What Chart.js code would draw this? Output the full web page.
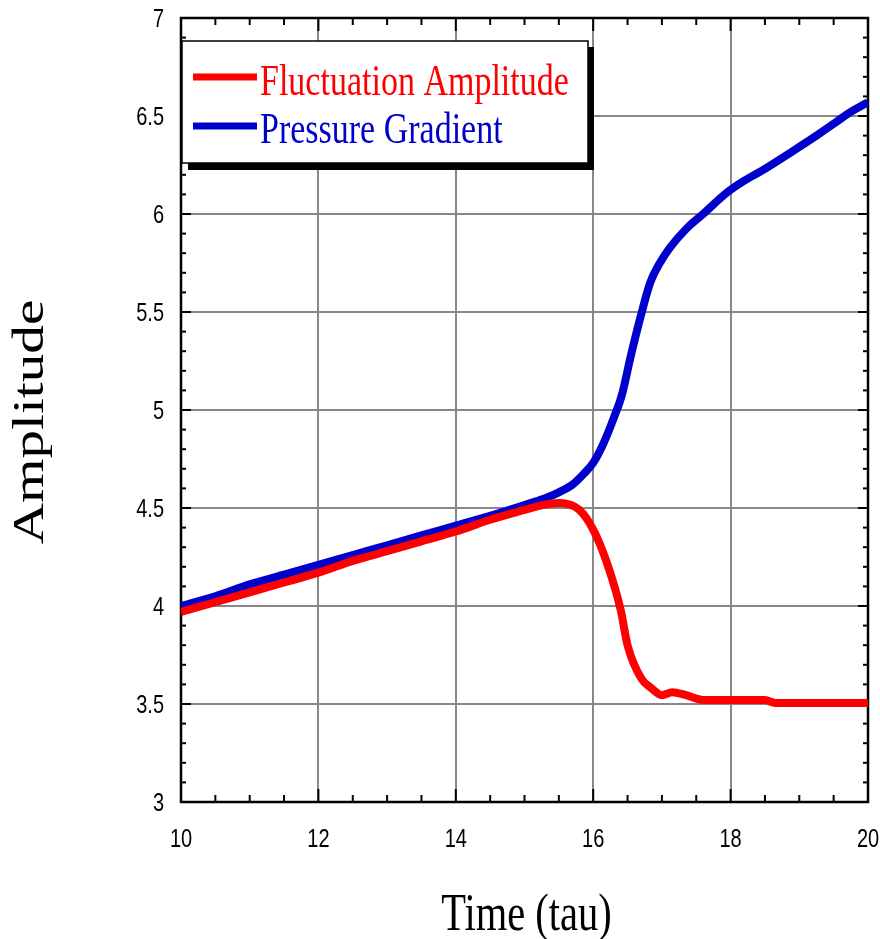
<!DOCTYPE html>
<html>
<head>
<meta charset="utf-8">
<script src="https://cdn.jsdelivr.net/npm/chart.js@4.4.0/dist/chart.umd.min.js"></script>
<style>
  html, body { margin: 0; padding: 0; background: #fff; }
  #wrap { width: 880px; height: 939px; }
</style>
</head>
<body>
<div id="wrap"><canvas id="chart" width="880" height="939"></canvas></div>
<script>
// data
const timeFluct = [10, 10.5, 11, 11.5, 12, 12.5, 13, 13.5, 14, 14.5, 15, 15.2, 15.5, 15.8, 16.0, 16.2, 16.4, 16.5, 16.7, 16.85, 17.0, 17.15, 17.35, 17.6, 18.0, 18.5, 18.65, 19.0, 19.5, 20];
const fluctAmp  = [3.97, 4.02, 4.07, 4.12, 4.17, 4.23, 4.28, 4.33, 4.38, 4.44, 4.49, 4.51, 4.525, 4.49, 4.39, 4.22, 3.98, 3.80, 3.63, 3.58, 3.545, 3.56, 3.545, 3.52, 3.52, 3.52, 3.505, 3.505, 3.505, 3.505];

const timePress = [10, 10.5, 11, 11.5, 12, 12.5, 13, 13.5, 14, 14.5, 15, 15.3, 15.5, 15.7, 15.85, 16.0, 16.15, 16.3, 16.42, 16.55, 16.7, 16.83, 16.97, 17.12, 17.37, 17.6, 17.95, 18.2, 18.45, 18.9, 19.25, 19.5, 19.7, 20];
const pressGrad = [4.0, 4.05, 4.11, 4.16, 4.21, 4.26, 4.31, 4.36, 4.41, 4.46, 4.515, 4.55, 4.58, 4.62, 4.67, 4.73, 4.83, 4.96, 5.08, 5.28, 5.49, 5.65, 5.75, 5.83, 5.93, 6.0, 6.11, 6.17, 6.22, 6.32, 6.40, 6.46, 6.51, 6.57];

const xTicks = [10, 12, 14, 16, 18, 20];
const yTicks = [3, 3.5, 4, 4.5, 5, 5.5, 6, 6.5, 7];

const seriesNames = ['Fluctuation Amplitude', 'Pressure Gradient'];
const xTitle = 'Time (tau)';
const yTitle = 'Amplitude';

const sans = "'Liberation Sans', Arial, sans-serif";
const serif = "'Liberation Serif', 'Times New Roman', serif";

function pts(xs, ys) {
  return xs.map((t, i) => ({ x: t, y: ys[i] }));
}

// text in the original looks stretched vertically
function stretchedText(ctx, text, x, y, font, color, align, rotate, sy) {
  ctx.save();
  ctx.translate(x, y);
  ctx.scale(1, sy || 1.3);
  if (rotate) ctx.rotate(-Math.PI / 2);
  ctx.font = font;
  ctx.fillStyle = color;
  ctx.textAlign = align;
  ctx.textBaseline = 'alphabetic';
  ctx.fillText(text, 0, 0);
  ctx.restore();
}

function seg(ctx, x1, y1, x2, y2) {
  ctx.beginPath();
  ctx.moveTo(x1, y1);
  ctx.lineTo(x2, y2);
  ctx.stroke();
}

// inward ticks on all four sides, black frame, tick labels
const frameTicks = {
  id: 'frameTicks',
  beforeDatasetsDraw(chart) {
    const { ctx, chartArea: a, scales: { x, y } } = chart;
    ctx.save();
    ctx.strokeStyle = '#000';
    ctx.lineWidth = 2;
    for (let i = 0; i <= 20; i++) {
      const v = 10 + i * 0.5;
      const px = x.getPixelForValue(v);
      const len = i % 4 === 0 ? 13 : 7;
      seg(ctx, px, a.bottom, px, a.bottom - len);
      seg(ctx, px, a.top, px, a.top + len);
    }
    for (let i = 0; i <= 40; i++) {
      const v = 3 + i * 0.1;
      const py = y.getPixelForValue(v);
      const len = i % 5 === 0 ? 10 : 5;
      seg(ctx, a.left, py, a.left + len, py);
      seg(ctx, a.right, py, a.right - len, py);
    }
    ctx.lineWidth = 2.5;
    ctx.strokeRect(a.left, a.top, a.right - a.left, a.bottom - a.top);

    const f = '20px ' + sans;
    x.ticks.forEach(t => {
      stretchedText(ctx, String(t.value), x.getPixelForValue(t.value), a.bottom + 45, f, '#000', 'center', false, 1.25);
    });
    y.ticks.forEach(t => {
      stretchedText(ctx, String(t.value), a.left - 17, y.getPixelForValue(t.value) + 9, f, '#000', 'right', false, 1.25);
    });
    ctx.restore();
  }
};

// boxed legend with drop shadow, and the axis titles
const boxLegend = {
  id: 'boxLegend',
  afterDraw(chart) {
    const ctx = chart.ctx;
    const bx = 182, by = 41, bw = 406, bh = 122;
    ctx.save();
    ctx.fillStyle = '#000';
    ctx.fillRect(bx + 6, by + 6, bw, bh + 1);
    ctx.fillStyle = '#fff';
    ctx.fillRect(bx, by, bw, bh);
    ctx.strokeStyle = '#000';
    ctx.lineWidth = 1.5;
    ctx.strokeRect(bx, by, bw, bh);

    chart.data.datasets.forEach((ds, i) => {
      const ly = 77 + i * 49;
      ctx.strokeStyle = ds.borderColor;
      ctx.lineWidth = 7;
      seg(ctx, 193, ly, 257, ly);
      stretchedText(ctx, ds.label, 260, 95 + i * 48, '34px ' + serif, ds.borderColor, 'left', false);
    });

    const a = chart.chartArea;
    stretchedText(ctx, xTitle, (a.left + a.right) / 2 + 2, 930, '40.5px ' + serif, '#000', 'center', false);
    stretchedText(ctx, yTitle, 43, 422, '44px ' + serif, '#000', 'center', true);
    ctx.restore();
  }
};

new Chart(document.getElementById('chart'), {
  type: 'line',
  data: {
    datasets: [
      {
        label: seriesNames[0],
        data: pts(timeFluct, fluctAmp),
        borderColor: '#ff0000',
        borderWidth: 8,
        pointRadius: 0,
        cubicInterpolationMode: 'monotone',
        order: 1
      },
      {
        label: seriesNames[1],
        data: pts(timePress, pressGrad),
        borderColor: '#0000cc',
        borderWidth: 8,
        pointRadius: 0,
        cubicInterpolationMode: 'monotone',
        order: 2
      }
    ]
  },
  options: {
    responsive: false,
    animation: false,
    layout: { padding: { top: 18, right: 12, left: 0, bottom: 0 } },
    plugins: {
      legend: { display: false },
      tooltip: { enabled: false }
    },
    scales: {
      x: {
        type: 'linear',
        min: 10,
        max: 20,
        afterBuildTicks: s => { s.ticks = xTicks.map(v => ({ value: v })); },
        afterFit: s => {
          s.height = 137;
          s.paddingLeft = 0; s.paddingRight = 0;
        },
        grid: { color: '#888', lineWidth: 2, drawTicks: false },
        border: { display: false },
        ticks: { display: false }
      },
      y: {
        type: 'linear',
        min: 3,
        max: 7,
        afterBuildTicks: s => { s.ticks = yTicks.map(v => ({ value: v })); },
        afterFit: s => {
          s.width = 181;
          s.paddingTop = 0; s.paddingBottom = 0;
        },
        grid: { color: '#888', lineWidth: 2, drawTicks: false },
        border: { display: false },
        ticks: { display: false }
      }
    }
  },
  plugins: [frameTicks, boxLegend]
});
</script>
</body>
</html>
